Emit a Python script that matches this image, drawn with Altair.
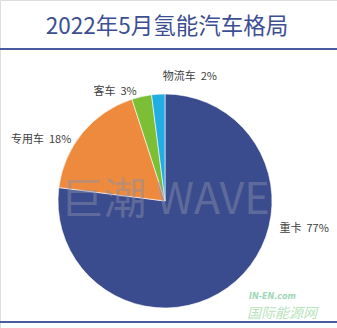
import math
import altair as alt
import pandas as pd

# ---- data ----
categories = ["重卡", "专用车", "客车", "物流车"]
values = [77, 18, 3, 2]
colors = ["#3B4C8E", "#EE8A3E", "#7DBE37", "#20AEE3"]
title_text = "2022年5月氢能汽车格局"

# label placement (angle in degrees clockwise from top, radius in px)
label_angles = [101.4, 296.2, 335.4, 11.4]
label_radii = [142, 138, 120, 126]

CX, CY, R = 165, 201, 107
W, H = 337, 328
NB = "\u00a0\u00a0"

df = pd.DataFrame({"cat": categories, "value": values, "order": list(range(len(values)))})
lab = pd.DataFrame({
    "label": [f"{c}{NB}{v}%" for c, v in zip(categories, values)],
    "theta": [math.radians(a) for a in label_angles],
    "r": label_radii,
})

one = alt.Data(values=[{}])
FONT = "Noto Sans CJK SC"

pie = alt.Chart(df).mark_arc(outerRadius=R, stroke="white", strokeWidth=0.6).encode(
    theta=alt.Theta("value:Q", stack=True),
    color=alt.Color("cat:N", scale=alt.Scale(domain=categories, range=colors), legend=None),
    order=alt.Order("order:Q"),
    x=alt.value(CX),
    y=alt.value(CY),
)

labels = alt.Chart(lab).mark_text(font=FONT, fontSize=11, color="#404040", align="center", baseline="middle").encode(
    text="label:N",
    theta=alt.Theta("theta:Q", scale=None),
    radius=alt.Radius("r:Q", scale=None),
    x=alt.value(CX),
    y=alt.value(CY),
)

title = alt.Chart(one).mark_text(text=title_text, font=FONT, fontSize=22.5, color="#3D4F93",
                                 align="center", baseline="middle").encode(
    x=alt.value(167), y=alt.value(27))

top_rule = alt.Chart(one).mark_rule(color="#4A5C9E", strokeWidth=2).encode(
    x=alt.value(0), x2=alt.value(W), y=alt.value(49))
bottom_rule = alt.Chart(one).mark_rule(color="#4A5C9E", strokeWidth=2).encode(
    x=alt.value(0), x2=alt.value(W), y=alt.value(322))

watermark = alt.Chart(one).mark_text(text="巨潮 WAVE", font=FONT, fontSize=43,
                                     color="#8A8FA8", opacity=0.45, align="center", baseline="middle").encode(
    x=alt.value(165), y=alt.value(201))

logo1 = alt.Chart(one).mark_text(text="IN-EN.com", font="DejaVu Sans", fontSize=8, fontStyle="italic",
                                 fontWeight="bold", color="#9ED8B8", align="left", baseline="middle").encode(
    x=alt.value(249), y=alt.value(297))
logo2 = alt.Chart(one).mark_text(text="国际能源网", font=FONT, fontSize=14, fontStyle="italic",
                                 color="#B9E4BE", align="left", baseline="middle").encode(
    x=alt.value(247), y=alt.value(314))

chart = alt.layer(pie, watermark, labels, title, top_rule, bottom_rule, logo1, logo2).properties(
    width=W, height=H, autosize=alt.AutoSizeParams(type="none"), padding=0
).configure_view(stroke=None).configure(background="white")

chart.save("out.html", embed_options={"renderer": "svg", "actions": False})
